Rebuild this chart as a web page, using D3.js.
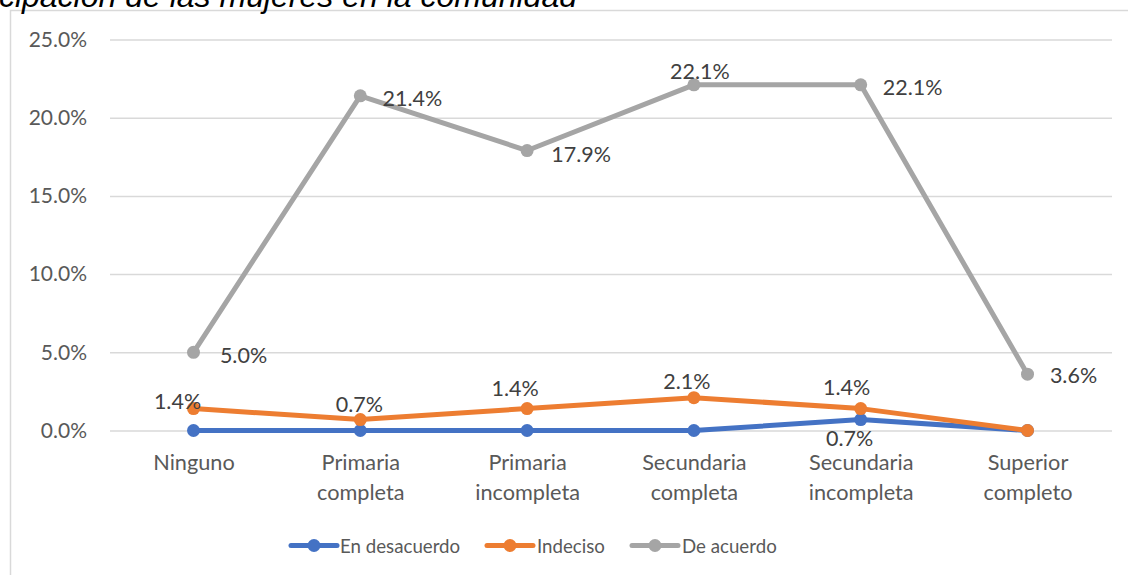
<!DOCTYPE html>
<html>
<head>
<meta charset="utf-8">
<script src="https://cdn.jsdelivr.net/npm/d3@7"></script>
<style>
  html, body { margin: 0; padding: 0; background: #fff; }
  svg { display: block; }
</style>
</head>
<body>
<svg id="chart" width="1128" height="575"></svg>
<script>
// ---- data ----
const categories = [
  ["Ninguno"],
  ["Primaria", "completa"],
  ["Primaria", "incompleta"],
  ["Secundaria", "completa"],
  ["Secundaria", "incompleta"],
  ["Superior", "completo"]
];
const seriesNames = ["En desacuerdo", "Indeciso", "De acuerdo"];
const enDesacuerdo = [0, 0, 0, 0, 0.7, 0];
const indeciso = [1.4, 0.7, 1.4, 2.1, 1.4, 0];
const deAcuerdo = [5.0, 21.4, 17.9, 22.1, 22.1, 3.6];
const yTicks = [0, 5, 10, 15, 20, 25];
const titleText = "cipación de las mujeres en la comunidad";

// ---- styling / layout ----
const colors = ["#4472C4", "#ED7D31", "#A5A5A5"];
const font = "Lato, 'Open Sans', sans-serif";
const svg = d3.select("#chart");

// label placement (dx, dy of label centre relative to point); null = no label
const labelOffsets = [
  [null, null, null, null, [-11, 18], null],
  [[-16, -8], [-1, -16], [-12, -21], [-7, -17], [-14, -22], null],
  [[50, 3], [52, 2], [54, 3], [6, -14], [52, 2], [46, 1]]
];

const x = d3.scalePoint()
  .domain(d3.range(categories.length))
  .range([193.5, 1027.5]);
const y = d3.scaleLinear().domain([0, 25]).range([430.5, 39.5]);

// frame
svg.append("rect")
  .attr("x", 10.5).attr("y", 10.5)
  .attr("width", 1300).attr("height", 700)
  .attr("fill", "none").attr("stroke", "#d9d9d9").attr("stroke-width", 1.5);

// title (clipped at top in the reference)
svg.append("text")
  .attr("x", 577).attr("y", 7)
  .attr("text-anchor", "end")
  .attr("font-family", "'Liberation Sans', Arial, sans-serif")
  .attr("font-style", "italic")
  .attr("font-size", 32)
  .attr("fill", "#000")
  .text(titleText);

// gridlines + y axis
const yAxis = d3.axisLeft(y)
  .tickValues(yTicks)
  .tickSize(-1002)
  .tickPadding(23)
  .tickFormat(d => d.toFixed(1) + "%");
const gy = svg.append("g").attr("transform", "translate(1112,0)").call(yAxis);
gy.select(".domain").remove();
gy.selectAll(".tick line").attr("stroke", "#d9d9d9").attr("stroke-width", 1.5)
  .attr("x1", 0).attr("x2", -1002);
gy.selectAll(".tick text")
  .attr("x", -1025)
  .attr("font-family", font).attr("font-size", 21).attr("fill", "#595959");

// x axis labels
const xAxis = d3.axisBottom(x).tickSize(0).tickFormat(() => "");
const gx = svg.append("g").attr("transform", "translate(0,430.5)").call(xAxis);
gx.select(".domain").remove();
gx.selectAll(".tick").each(function(d) {
  const t = d3.select(this).append("text")
    .attr("text-anchor", "middle")
    .attr("font-family", font).attr("font-size", 21.7).attr("fill", "#595959");
  categories[d].forEach((line, i) => {
    t.append("tspan").attr("x", 0).attr("y", 39 + i * 30).text(line);
  });
});

// series
const allSeries = [enDesacuerdo, indeciso, deAcuerdo];
const line = d3.line().x((d, i) => x(i)).y(d => y(d));
allSeries.forEach((vals, s) => {
  const g = svg.append("g");
  g.append("path").datum(vals)
    .attr("d", line)
    .attr("fill", "none").attr("stroke", colors[s])
    .attr("stroke-width", 5).attr("stroke-linejoin", "round");
  g.selectAll("circle").data(vals).join("circle")
    .attr("cx", (d, i) => x(i)).attr("cy", d => y(d))
    .attr("r", 6.5).attr("fill", colors[s]);
});

// data labels (drawn after all series)
allSeries.forEach((vals, s) => {
  vals.forEach((v, i) => {
    const off = labelOffsets[s][i];
    if (!off) return;
    svg.append("text")
      .attr("x", x(i) + off[0]).attr("y", y(v) + off[1])
      .attr("text-anchor", "middle").attr("dominant-baseline", "central")
      .attr("font-family", font).attr("font-size", 21.5).attr("fill", "#404040")
      .text(v.toFixed(1) + "%");
  });
});

// legend
const legendItems = [
  { x0: 291, tx: 340 },
  { x0: 487, tx: 537 },
  { x0: 632, tx: 682 }
];
const ly = 545.5;
legendItems.forEach((it, s) => {
  const g = svg.append("g");
  g.append("line").attr("x1", it.x0).attr("x2", it.x0 + 46)
    .attr("y1", ly).attr("y2", ly)
    .attr("stroke", colors[s]).attr("stroke-width", 5).attr("stroke-linecap", "round");
  g.append("circle").attr("cx", it.x0 + 23).attr("cy", ly).attr("r", 6.5).attr("fill", colors[s]);
  g.append("text").attr("x", it.tx).attr("y", ly)
    .attr("dominant-baseline", "central")
    .attr("font-family", font).attr("font-size", 18.7).attr("fill", "#595959")
    .text(seriesNames[s]);
});
</script>
</body>
</html>
